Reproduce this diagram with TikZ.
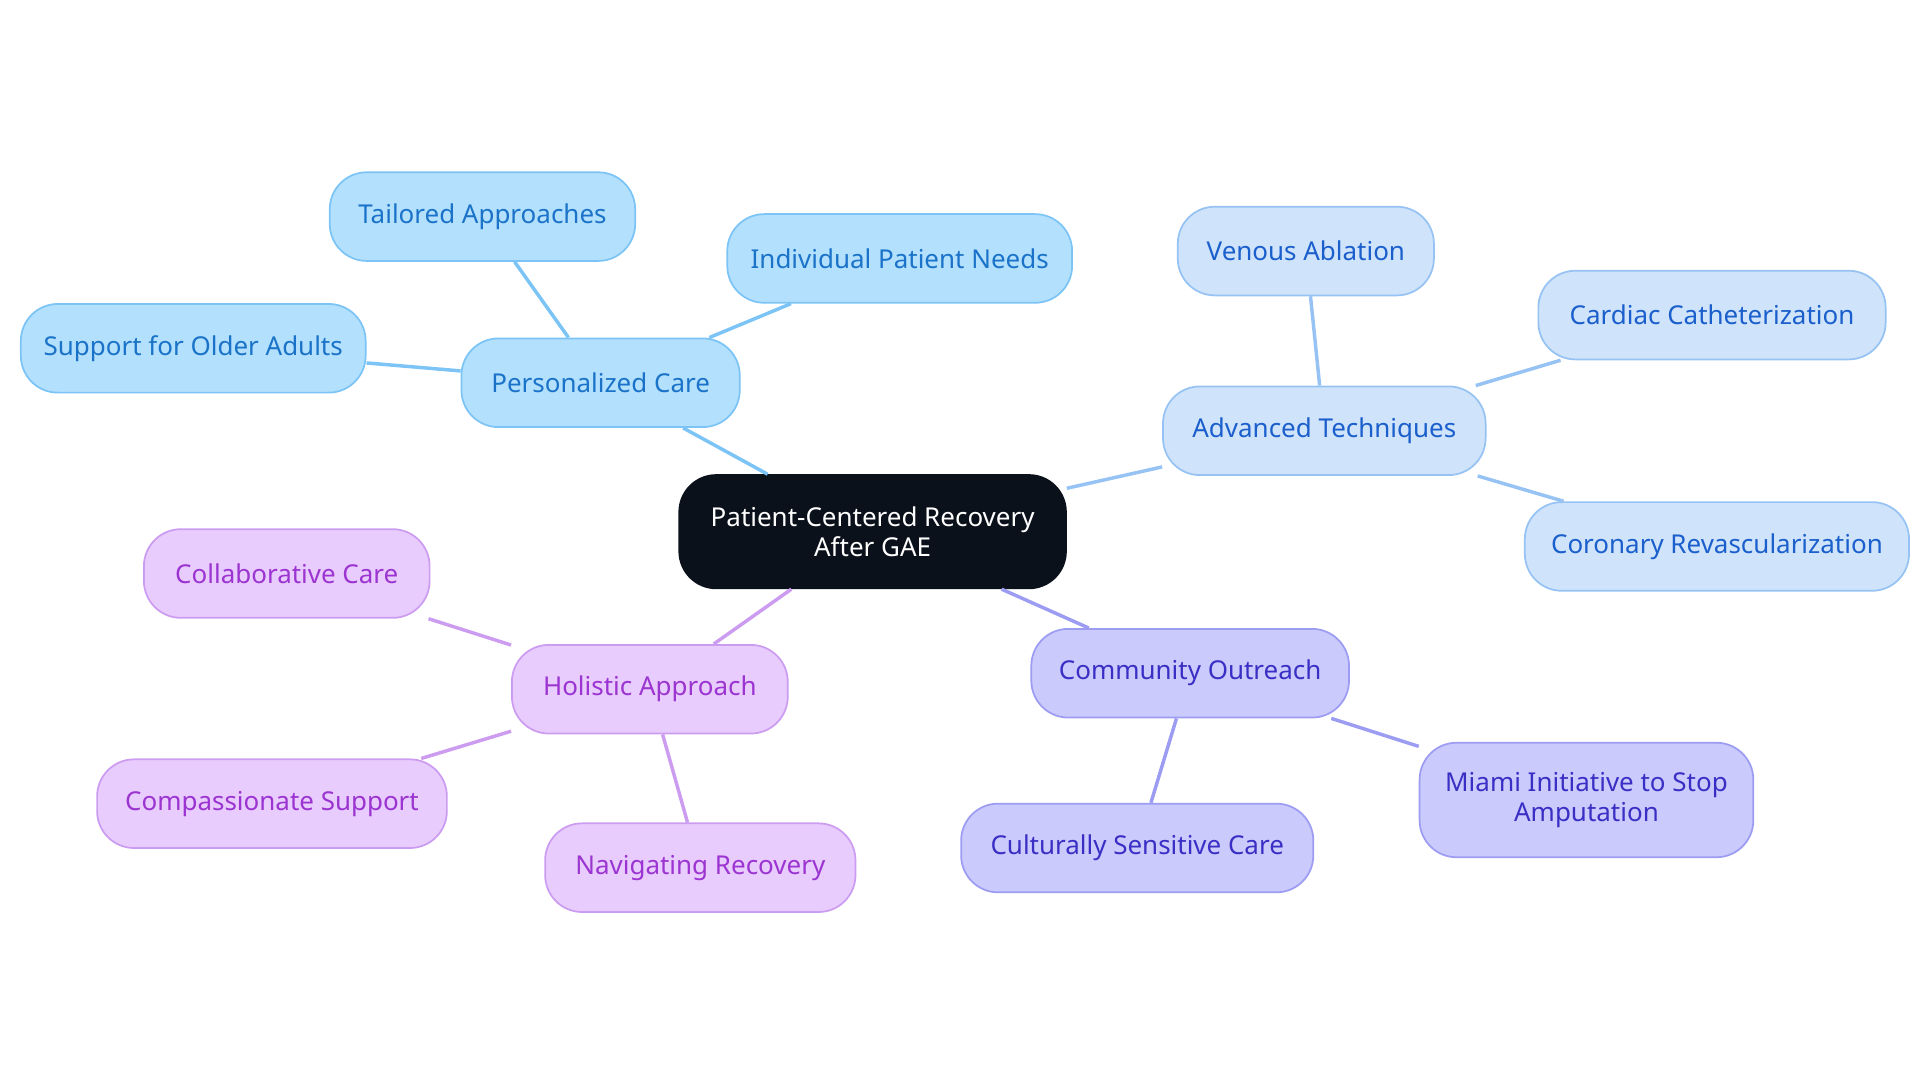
\documentclass[tikz,border=0pt]{standalone}
\usepackage{fontspec}
\setmainfont{Noto Sans}
\usetikzlibrary{positioning}
\definecolor{pcFill}{HTML}{B3E0FD}\definecolor{pcLine}{HTML}{7CC4F5}\definecolor{pcText}{HTML}{1A73C8}
\definecolor{atFill}{HTML}{CFE3FB}\definecolor{atLine}{HTML}{96C3F3}\definecolor{atText}{HTML}{1A5FCC}
\definecolor{coFill}{HTML}{CACAFD}\definecolor{coLine}{HTML}{9C9CF3}\definecolor{coText}{HTML}{3A2FC4}
\definecolor{haFill}{HTML}{E8CCFD}\definecolor{haLine}{HTML}{CC9CF0}\definecolor{haText}{HTML}{9B34D0}
\definecolor{rootFill}{HTML}{0B111A}
\tikzset{
  box/.style={draw, rounded corners=0.3cm, minimum height=0.72cm, align=center, font=\fontsize{6}{7}\selectfont, line width=0.4pt},
  pcBox/.style={box, fill=pcFill, draw=pcLine, text=pcText},
  atBox/.style={box, fill=atFill, draw=atLine, text=atText},
  coBox/.style={box, fill=coFill, draw=coLine, text=coText},
  haBox/.style={box, fill=haFill, draw=haLine, text=haText},
  link/.style={line width=0.8pt}
}
\begin{document}
\begin{tikzpicture}[x=0.01cm,y=-0.01cm]
\useasboundingbox (0,0) rectangle (1560,880);
% root
\node[box, fill=rootFill, draw=rootFill, text=white, minimum width=3.14cm, minimum height=0.92cm] (root) at (709,432) {Patient-Centered Recovery\\After GAE};

% Personalized Care
\node[pcBox, minimum width=2.26cm] (pers) at (488,311) {Personalized Care};
\node[pcBox, minimum width=2.48cm] (tail) at (392,176) {Tailored Approaches};
\node[pcBox, minimum width=2.80cm] (indiv) at (731,210) {Individual Patient Needs};
\node[pcBox, minimum width=2.80cm] (older) at (157,283) {Support for Older Adults};

% Advanced Techniques
\node[atBox, minimum width=2.62cm] (adv) at (1076,350) {Advanced Techniques};
\node[atBox, minimum width=2.08cm] (ven) at (1061,204) {Venous Ablation};
\node[atBox, minimum width=2.82cm] (card) at (1391,256) {Cardiac Catheterization};
\node[atBox, minimum width=3.12cm] (coro) at (1395,444) {Coronary Revascularization};

% Community Outreach
\node[coBox, minimum width=2.58cm] (comm) at (967,547) {Community Outreach};
\node[coBox, minimum width=2.86cm] (cult) at (924,689) {Culturally Sensitive Care};
\node[coBox, minimum width=2.71cm, minimum height=0.93cm] (miami) at (1289,650) {Miami Initiative to Stop\\Amputation};

% Holistic Approach
\node[haBox, minimum width=2.24cm] (hol) at (528,560) {Holistic Approach};
\node[haBox, minimum width=2.32cm] (collab) at (233,466) {Collaborative Care};
\node[haBox, minimum width=2.84cm] (comp) at (221,653) {Compassionate Support};
\node[haBox, minimum width=2.52cm] (nav) at (569,705) {Navigating Recovery};

% links
\draw[link, pcLine] (root) -- (pers);
\draw[link, pcLine] (pers) -- (tail);
\draw[link, pcLine] (pers) -- (indiv);
\draw[link, pcLine] (pers) -- (older);
\draw[link, atLine] (root) -- (adv);
\draw[link, atLine] (adv) -- (ven);
\draw[link, atLine] (adv) -- (card);
\draw[link, atLine] (adv) -- (coro);
\draw[link, coLine] (root) -- (comm);
\draw[link, coLine] (comm) -- (cult);
\draw[link, coLine] (comm) -- (miami);
\draw[link, haLine] (root) -- (hol);
\draw[link, haLine] (hol) -- (collab);
\draw[link, haLine] (hol) -- (comp);
\draw[link, haLine] (hol) -- (nav);
\end{tikzpicture}
\end{document}
